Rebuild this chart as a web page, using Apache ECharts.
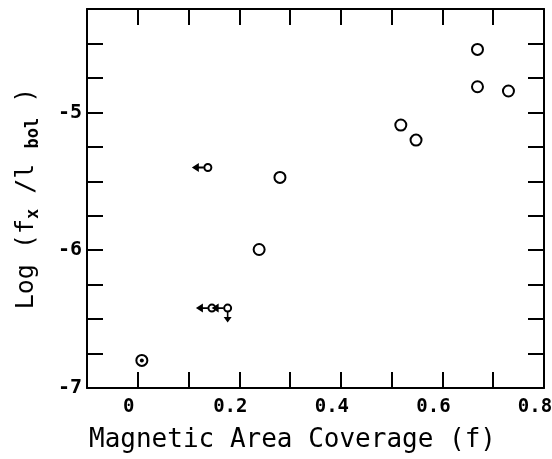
<!DOCTYPE html>
<html>
<head>
<meta charset="utf-8">
<script src="https://cdn.jsdelivr.net/npm/echarts@6/dist/echarts.min.js"></script>
<style>html,body{margin:0;padding:0;background:#fff}#c{width:552px;height:459px}</style>
</head>
<body>
<div id="c"></div>
<script>
// Detections (open circles)
const circX = [0.239, 0.280, 0.518, 0.548, 0.669, 0.669, 0.730];
const circY = [-5.995, -5.472, -5.092, -5.201, -4.543, -4.814, -4.845];
// Point drawn as circle with central dot
const dotX = [0.008];
const dotY = [-6.80];
// Upper limits in f (left arrows)
const limX = [0.138, 0.146, 0.177];
const limY = [-5.40, -6.42, -6.42];
// Upper limits in flux ratio too (down arrows)
const downX = [0.177];
const downY = [-6.42];
// Axis ticks
const xTickLabels = ['0', '0.2', '0.4', '0.6', '0.8'];
const yTickLabels = ['-7', '-6', '-5'];

const pts = (xs, ys) => xs.map((x, i) => [x, ys[i]]);
const font = 'DejaVu Sans Mono';
const leftArrow = 'path://M0,5L7,0L7,4L12,4L12,6L7,6L7,10Z';
const downArrow = 'path://M5,12L0,6L4,6L4,0L6,0L6,6L10,6Z';

const axisCommon = {
  axisLine: { show: true, onZero: false, lineStyle: { color: '#000', width: 2 } },
  axisTick: { show: true, inside: true, length: 16, lineStyle: { color: '#000', width: 2 } },
  splitLine: { show: false }
};
const ring = { color: 'transparent', borderColor: '#000', borderWidth: 2, opacity: 1 };

const chart = echarts.init(document.getElementById('c'));
chart.setOption({
  animation: false,
  backgroundColor: '#fff',
  grid: { left: 87, right: 8, top: 9, bottom: 71, outerBoundsMode: 'none', containLabel: false },
  xAxis: [
    Object.assign({
      type: 'value', min: -0.1, max: 0.8, interval: 0.1, position: 'bottom',
      name: 'Magnetic Area Coverage (f)', nameLocation: 'middle', nameGap: 39,
      nameTextStyle: { fontFamily: font, fontSize: 26, color: '#000', padding: [0, 46, 0, 0] },
      axisLabel: {
        color: '#000', fontFamily: font, fontSize: 19, fontWeight: 'bold', margin: 10,
        padding: [0, 18, 0, 0],
        formatter: v => { const s = String(Math.round(v * 10) / 10); return xTickLabels.includes(s) ? s : ''; }
      }
    }, axisCommon),
    Object.assign({
      type: 'value', min: -0.1, max: 0.8, interval: 0.1, position: 'top',
      axisLabel: { show: false }
    }, axisCommon)
  ],
  yAxis: [
    Object.assign({
      type: 'value', min: -7, max: -4.25, interval: 0.25, position: 'left',
      name: 'Log (f{s|x} /l {s|bol} )', nameLocation: 'middle', nameGap: 45,
      nameTextStyle: {
        fontFamily: font, fontSize: 25, color: '#000',
        rich: { s: { fontFamily: font, fontSize: 17, fontWeight: 'bold', verticalAlign: 'bottom', padding: [14, 0, 0, 0] } }
      },
      axisLabel: {
        color: '#000', fontFamily: font, fontSize: 20, fontWeight: 'bold', margin: 5,
        formatter: v => { const s = String(Math.round(v * 100) / 100); return yTickLabels.includes(s) ? s : ''; }
      }
    }, axisCommon),
    Object.assign({
      type: 'value', min: -7, max: -4.25, interval: 0.25, position: 'right',
      axisLabel: { show: false }
    }, axisCommon)
  ],
  series: [
    {
      type: 'scatter', data: pts(circX, circY), symbol: 'circle', symbolSize: 11,
      itemStyle: ring
    },
    {
      type: 'scatter', data: pts(dotX, dotY), symbol: 'circle', symbolSize: 11,
      itemStyle: ring
    },
    {
      type: 'scatter', data: pts(dotX, dotY), symbol: 'circle', symbolSize: 4,
      itemStyle: { color: '#000', opacity: 1 }
    },
    {
      type: 'scatter', data: pts(limX, limY), symbol: 'circle', symbolSize: 7,
      itemStyle: ring
    },
    {
      type: 'scatter', data: pts(limX, limY), symbol: leftArrow, symbolSize: [12, 9],
      symbolOffset: [-10, 0], itemStyle: { color: '#000', opacity: 1 }
    },
    {
      type: 'scatter', data: pts(downX, downY), symbol: downArrow, symbolSize: [8, 11],
      symbolOffset: [0, 9], itemStyle: { color: '#000', opacity: 1 }
    }
  ]
});
</script>
</body>
</html>
